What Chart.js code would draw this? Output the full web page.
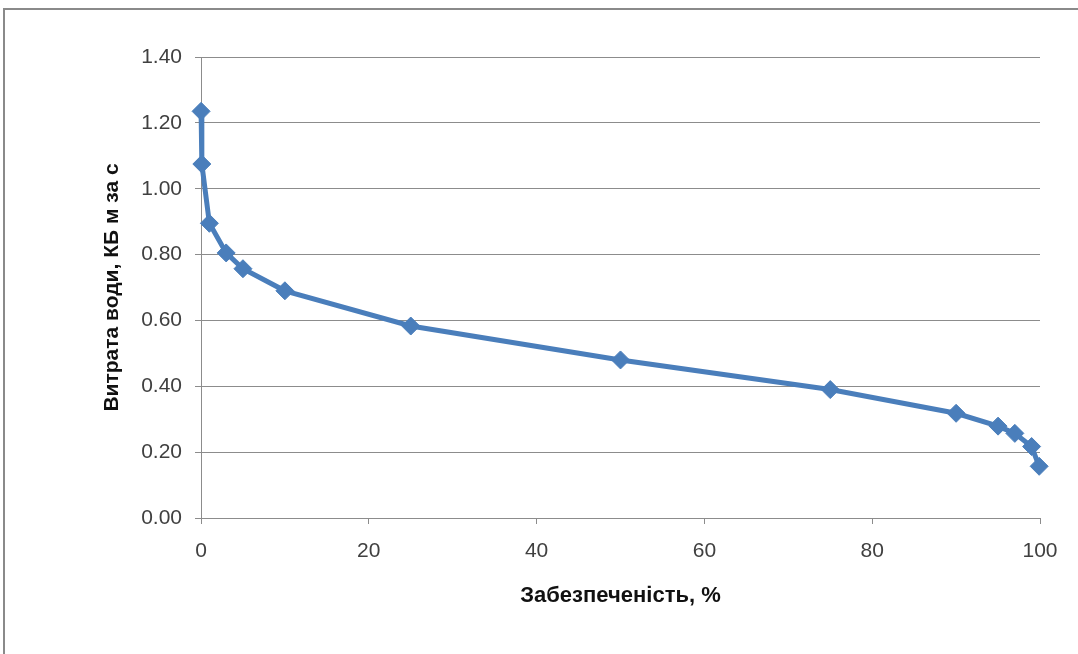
<!DOCTYPE html>
<html lang="uk">
<head>
    <meta charset="UTF-8">
    <title>Крива забезпеченості</title>
    <script src="https://cdn.jsdelivr.net/npm/chart.js"></script>
    <style>
        body { margin: 0; background: #ffffff; overflow: hidden; }
        #frame {
            position: absolute; left: 3px; top: 8px;
            width: 1100px; height: 700px;
            border-top: 2px solid #8a8a8a; border-left: 2px solid #8a8a8a;
        }
        #flowChart { position: absolute; left: 0; top: 0; }
    </style>
</head>
<body>
    <div id="frame"></div>
    <canvas id="flowChart" width="1078" height="654"></canvas>

    <script>
        // Забезпеченість, % (x) and витрата води, м³/с (y)
        const supplyPct = [0.01, 0.1, 1, 3, 5, 10, 25, 50, 75, 90, 95, 97, 99, 99.9];
        const waterFlow = [1.235, 1.075, 0.895, 0.805, 0.757, 0.69, 0.583, 0.48, 0.39, 0.318, 0.279, 0.257, 0.217, 0.157];

        const xTitle = "Забезпеченість, %";
        const yTitle = "Витрата води, КБ м за с";

        const lineColor = "#4a7ebb";
        const gridColor = "#8c8c8c";
        const fontFamily = "'Liberation Sans', Arial, sans-serif";

        let points = supplyPct.map((x, i) => ({ x: x, y: waterFlow[i] }));

        let ctx = document.getElementById("flowChart").getContext("2d");
        new Chart(ctx, {
            type: "line",
            data: {
                datasets: [{
                    data: points,
                    borderColor: lineColor,
                    backgroundColor: lineColor,
                    borderWidth: 5,
                    tension: 0,
                    pointStyle: "rectRot",
                    pointRadius: 9,
                    pointBorderWidth: 1,
                    pointBackgroundColor: lineColor,
                    pointBorderColor: lineColor,
                    clip: false
                }]
            },
            options: {
                responsive: false,
                animation: false,
                layout: { padding: { top: 57, right: 38, left: 0, bottom: 0 } },
                plugins: {
                    legend: { display: false },
                    tooltip: { enabled: false }
                },
                scales: {
                    x: {
                        type: "linear",
                        min: 0,
                        max: 100,
                        ticks: {
                            stepSize: 20,
                            padding: 15,
                            color: "#404040",
                            font: { family: fontFamily, size: 21 }
                        },
                        grid: {
                            drawOnChartArea: false,
                            drawTicks: true,
                            tickLength: 6,
                            color: gridColor
                        },
                        border: { color: gridColor, width: 1 },
                        title: {
                            display: true,
                            text: xTitle,
                            color: "#111111",
                            padding: { top: 0, bottom: 45 },
                            font: { family: fontFamily, size: 22, weight: "bold" }
                        },
                        afterFit: (scale) => { scale.height = 136; }
                    },
                    y: {
                        min: 0,
                        max: 1.4,
                        ticks: {
                            stepSize: 0.2,
                            padding: 13,
                            color: "#404040",
                            font: { family: fontFamily, size: 21 },
                            callback: (v) => v.toFixed(2)
                        },
                        grid: {
                            drawOnChartArea: true,
                            tickLength: 6,
                            color: gridColor
                        },
                        border: { color: gridColor, width: 1 },
                        title: {
                            display: true,
                            text: yTitle,
                            color: "#111111",
                            padding: { top: 100, bottom: 0 },
                            font: { family: fontFamily, size: 21, weight: "bold" }
                        },
                        afterFit: (scale) => { scale.width = 201; }
                    }
                }
            }
        });
    </script>
</body>
</html>
